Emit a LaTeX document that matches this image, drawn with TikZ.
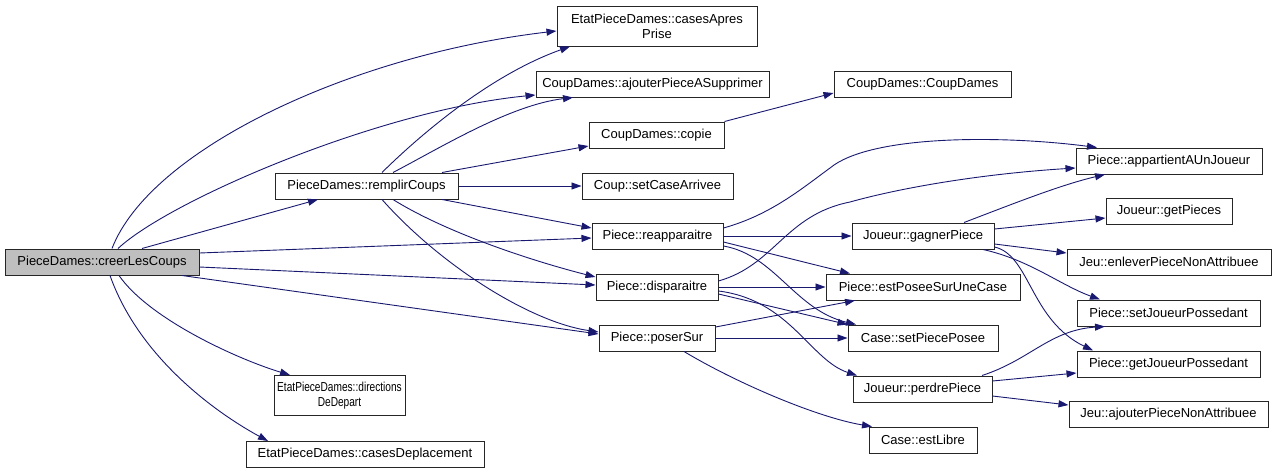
\documentclass[tikz,border=0pt]{standalone}
\usepackage{fontspec}
\usepackage{graphicx}
\setmainfont{Liberation Sans}
\usetikzlibrary{arrows.meta}
\definecolor{edgeblue}{HTML}{191970}
\definecolor{rootgray}{HTML}{BFBFBF}
\tikzset{
  fn/.style={draw=black!85, line width=1pt, fill=white, rectangle, inner sep=0pt,
    minimum height=26pt, font=\fontsize{13}{15}\selectfont, align=center},
  root/.style={fn, fill=rootgray},
  call/.style={draw=edgeblue, line width=0.9pt, -{Triangle[length=10pt,width=7pt]}, fill=none},
}
\begin{document}
\begin{tikzpicture}[x=1pt,y=-1pt]
\useasboundingbox (0,0) rectangle (1276,474);
% nodes
\node[root, minimum width=194pt] (creer) at (102,262) {PieceDames::creerLesCoups};
\node[fn, minimum width=183pt] (remplir) at (366.5,186) {PieceDames::remplirCoups};
\node[fn, minimum width=200pt, minimum height=40pt] (casesApres) at (657,26) {EtatPieceDames::casesApres\\Prise};
\node[fn, minimum width=233pt] (ajouter) at (652.5,84) {CoupDames::ajouterPieceASupprimer};
\node[fn, minimum width=135pt] (copie) at (656.5,135) {CoupDames::copie};
\node[fn, minimum width=151pt] (setCase) at (657.5,186) {Coup::setCaseArrivee};
\node[fn, minimum width=177pt] (coupdames) at (922.5,84) {CoupDames::CoupDames};
\node[fn, minimum width=131pt] (reapp) at (657.5,236) {Piece::reapparaitre};
\node[fn, minimum width=122pt] (disp) at (657,287) {Piece::disparaitre};
\node[fn, minimum width=116pt] (poser) at (657,338) {Piece::poserSur};
\node[fn, minimum width=142pt] (gagner) at (923,236) {Joueur::gagnerPiece};
\node[fn, minimum width=194pt] (estPosee) at (923,287) {Piece::estPoseeSurUneCase};
\node[fn, minimum width=150pt] (setPP) at (923,338) {Case::setPiecePosee};
\node[fn, minimum width=139pt] (perdre) at (922.5,389) {Joueur::perdrePiece};
\node[fn, minimum width=108pt] (estLibre) at (923,440) {Case::estLibre};
\node[fn, minimum width=186pt] (appart) at (1169,161) {Piece::appartientAUnJoueur};
\node[fn, minimum width=126pt] (getPieces) at (1169,211) {Joueur::getPieces};
\node[fn, minimum width=204pt] (enlever) at (1169,262) {Jeu::enleverPieceNonAttribuee};
\node[fn, minimum width=183pt] (setJP) at (1168.5,313) {Piece::setJoueurPossedant};
\node[fn, minimum width=183pt] (getJP) at (1168.5,364) {Piece::getJoueurPossedant};
\node[fn, minimum width=199pt] (ajNon) at (1168.5,414) {Jeu::ajouterPieceNonAttribuee};
\node[fn, minimum width=131pt, minimum height=40pt] (dirs) at (339.5,395.5) {\scalebox{0.78}[1]{EtatPieceDames::directions}\\\scalebox{0.78}[1]{DeDepart}};
\node[fn, minimum width=238pt] (casesDep) at (365,454.5) {EtatPieceDames::casesDeplacement};
% edges from creer
\draw[call] (creer.north -| 112,0) .. controls (150,150) and (350,55) .. (casesApres.west |- 0,31);
\draw[call] (creer.north -| 118,0) .. controls (170,200) and (380,110) .. (ajouter.west |- 0,95);
\draw[call] (creer.north -| 142,0) -- (remplir.south -| 318,0);
\draw[call] (creer.east |- 0,253) -- (reapp.west |- 0,238);
\draw[call] (creer.east |- 0,267) -- (disp.west |- 0,285);
\draw[call] (creer.south -| 182,0) -- (poser.west |- 0,334);
\draw[call] (creer.south -| 119,0) .. controls (150,320) and (240,360) .. (dirs.north -| 290,0);
\draw[call] (creer.south -| 110,0) .. controls (140,360) and (220,415) .. (casesDep.north -| 268,0);
% edges from remplir
\draw[call] (remplir.north -| 382,0) .. controls (420,135) and (490,75) .. (casesApres.south -| 570,0);
\draw[call] (remplir.north -| 393,0) .. controls (440,148) and (510,105) .. (ajouter.south -| 573,0);
\draw[call] (remplir.north -| 442,0) -- (copie.west |- 0,146);
\draw[call] (remplir.east) -- (setCase.west);
\draw[call] (remplir.south -| 442,0) -- (reapp.west |- 0,228);
\draw[call] (remplir.south -| 393,0) .. controls (450,235) and (540,263) .. (disp.west |- 0,277);
\draw[call] (remplir.south -| 382,0) .. controls (440,265) and (530,322) .. (poser.west |- 0,332);
% copie
\draw[call] (copie.north east) -- (coupdames.west |- 0,93);
% reapparaitre
\draw[call] (reapp.east |- 0,228) .. controls (770,215) and (800,190) .. (830,168) .. controls (870,135) and (1000,135) .. (appart.north -| 1097,0);
\draw[call] (reapp.east) -- (gagner.west);
\draw[call] (reapp.east |- 0,242) -- (estPosee.north -| 850,0);
\draw[call] (reapp.east |- 0,246) .. controls (775,255) and (795,310) .. (setPP.north -| 856,0);
% disparaitre
\draw[call] (disp.east |- 0,281) .. controls (775,265) and (785,215) .. (850,202) .. controls (900,188) and (980,174) .. (appart.west |- 0,168);
\draw[call] (disp.east) -- (estPosee.west);
\draw[call] (disp.east |- 0,294) -- (setPP.north west);
\draw[call] (disp.east |- 0,291) .. controls (790,300) and (810,360) .. (perdre.north -| 857,0);
% poserSur
\draw[call] (poser.east |- 0,327) -- (estPosee.south -| 855,0);
\draw[call] (poser.east) -- (setPP.west);
\draw[call] (poser.south -| 684,0) .. controls (740,385) and (820,418) .. (estLibre.north -| 872,0);
% gagnerPiece
\draw[call] (gagner.north -| 964,0) .. controls (1010,205) and (1060,185) .. (appart.south -| 1105,0);
\draw[call] (gagner.east |- 0,229) -- (getPieces.west |- 0,218);
\draw[call] (gagner.east |- 0,244) -- (enlever.west |- 0,253);
\draw[call] (gagner.south -| 983,0) .. controls (1030,260) and (1060,285) .. (setJP.north -| 1100,0);
\draw[call] (gagner.east |- 0,247) .. controls (1030,255) and (1030,320) .. (getJP.north -| 1093,0);
% perdrePiece
\draw[call] (perdre.north -| 982,0) .. controls (1030,360) and (1050,330) .. (setJP.south -| 1105,0);
\draw[call] (perdre.east |- 0,381) -- (getJP.west |- 0,373);
\draw[call] (perdre.east |- 0,396) -- (ajNon.west |- 0,405);
\end{tikzpicture}
\end{document}
